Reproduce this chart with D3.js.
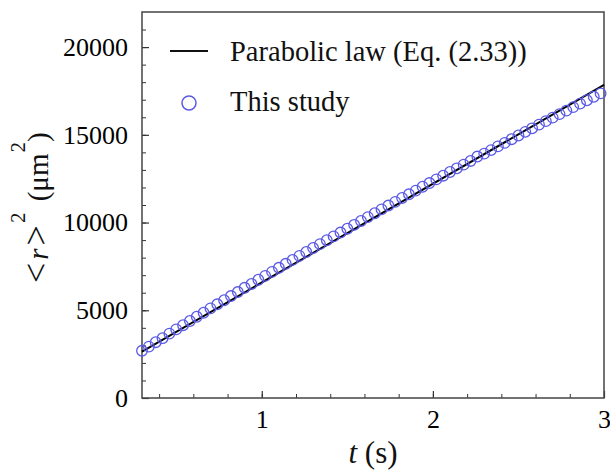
<!DOCTYPE html>
<html>
<head>
<meta charset="utf-8">
<script src="https://cdn.jsdelivr.net/npm/d3@7"></script>
<style>
  body { margin: 0; background: #fff; }
  svg { font-family: "Liberation Serif", "Times New Roman", serif; }
</style>
</head>
<body>
<script>
// time (s)
var times = [0.30, 0.34, 0.38, 0.42, 0.46, 0.50, 0.54, 0.58, 0.62, 0.66,
             0.70, 0.74, 0.78, 0.82, 0.86, 0.90, 0.94, 0.98, 1.02, 1.06,
             1.10, 1.14, 1.18, 1.22, 1.26, 1.30, 1.34, 1.38, 1.42, 1.46,
             1.50, 1.54, 1.58, 1.62, 1.66, 1.70, 1.74, 1.78, 1.82, 1.86,
             1.90, 1.94, 1.98, 2.02, 2.06, 2.10, 2.14, 2.18, 2.22, 2.26,
             2.30, 2.34, 2.38, 2.42, 2.46, 2.50, 2.54, 2.58, 2.62, 2.66,
             2.70, 2.74, 2.78, 2.82, 2.86, 2.90, 2.94, 2.98];
// <r>^2 (um^2), this study
var study = [2690, 2930, 3180, 3410, 3670, 3910, 4150, 4390, 4630, 4860,
             5110, 5340, 5570, 5810, 6040, 6280, 6500, 6740, 6960, 7190,
             7420, 7650, 7870, 8100, 8320, 8550, 8770, 8990, 9210, 9430,
             9650, 9870, 10090, 10310, 10530, 10750, 10970, 11180, 11400, 11610,
             11820, 12040, 12250, 12460, 12670, 12880, 13090, 13300, 13510, 13760,
             13930, 14130, 14340, 14540, 14750, 14960, 15170, 15370, 15580, 15780,
             15980, 16180, 16380, 16580, 16780, 16970, 17170, 17360];
// parabolic law, end points
var lawT = [0.3, 3.0];
var lawR = [2640, 17840];

var xTicks = [1, 2, 3];
var yTicks = [0, 5000, 10000, 15000, 20000];
var legendLabels = ["Parabolic law (Eq. (2.33))", "This study"];

var W = 610, H = 470;
var margin = {left: 142, right: 6, top: 12, bottom: 72},
    width = W - margin.left - margin.right,
    height = H - margin.top - margin.bottom;

var blue = "#5a5ae6";

var svg = d3.select("body").append("svg")
    .attr("width", W)
    .attr("height", H);

var g = svg.append("g")
    .attr("transform", "translate(" + margin.left + "," + margin.top + ")");

var x = d3.scaleLinear().domain([0.3, 3]).range([0, width]);
var y = d3.scaleLinear().domain([0, 22000]).range([height, 0]);

// minor ticks
g.append("g")
    .attr("transform", "translate(0," + height + ")")
    .call(d3.axisBottom(x).tickValues(d3.range(0.4, 3.0, 0.2)).tickSize(-4).tickFormat(""))
    .call(function(s) { s.select(".domain").remove(); s.selectAll("line").attr("stroke", "#333"); });
g.append("g")
    .call(d3.axisLeft(y).tickValues(d3.range(1000, 22000, 1000)).tickSize(-4).tickFormat(""))
    .call(function(s) { s.select(".domain").remove(); s.selectAll("line").attr("stroke", "#333"); });

// major ticks
var xAxis = g.append("g")
    .attr("transform", "translate(0," + height + ")")
    .call(d3.axisBottom(x).tickValues(xTicks).tickSize(-7).tickPadding(12).tickFormat(d3.format("d")));
var yAxis = g.append("g")
    .call(d3.axisLeft(y).tickValues(yTicks).tickSize(-7).tickPadding(14).tickFormat(d3.format("d")));

[xAxis, yAxis].forEach(function(a) {
    a.attr("font-family", null).attr("font-size", 26).attr("fill", "#111");
    a.select(".domain").remove();
    a.selectAll("line").attr("stroke", "#333").attr("stroke-width", 1.2);
});

// frame
g.append("rect")
    .attr("width", width)
    .attr("height", height)
    .attr("fill", "none")
    .attr("stroke", "#444")
    .attr("stroke-width", 1.5);

// parabolic law line
var line = d3.line()
    .x(function(d) { return x(d[0]); })
    .y(function(d) { return y(d[1]); });

g.append("path")
    .datum(d3.zip(lawT, lawR))
    .attr("d", line)
    .attr("fill", "none")
    .attr("stroke", "#000")
    .attr("stroke-width", 2);

// this study
g.append("g").selectAll("circle")
    .data(d3.zip(times, study))
    .enter().append("circle")
        .attr("cx", function(d) { return x(d[0]); })
        .attr("cy", function(d) { return y(d[1]); })
        .attr("r", 5.3)
        .attr("fill", "none")
        .attr("stroke", blue)
        .attr("stroke-width", 1.3);

// legend
var leg = svg.append("g").attr("font-size", 28.5).attr("fill", "#111");
leg.append("line")
    .attr("x1", 170).attr("x2", 208)
    .attr("y1", 51).attr("y2", 51)
    .attr("stroke", "#111").attr("stroke-width", 2);
leg.append("circle")
    .attr("cx", 189).attr("cy", 103).attr("r", 7)
    .attr("fill", "none").attr("stroke", blue).attr("stroke-width", 1.5);
leg.append("text").attr("x", 230).attr("y", 61).text(legendLabels[0]);
leg.append("text").attr("x", 230).attr("y", 111).text(legendLabels[1]);

// axis titles
var xt = svg.append("text")
    .attr("x", margin.left + width / 2)
    .attr("y", 463)
    .attr("text-anchor", "middle")
    .attr("font-size", 31)
    .attr("fill", "#111");
xt.append("tspan").attr("font-style", "italic").text("t");
xt.append("tspan").text(" (s)");

// y title, laid out from its start (bottom) upwards
var yt = svg.append("text")
    .attr("transform", "translate(48,283) rotate(-90)")
    .attr("text-anchor", "start")
    .attr("font-size", 29)
    .attr("fill", "#111");
yt.append("tspan").attr("font-size", 36).text("<");
yt.append("tspan").attr("font-style", "italic").attr("dx", 3).text("r");
yt.append("tspan").attr("font-size", 36).attr("dx", 3).text(">");
yt.append("tspan").attr("font-size", 21).attr("dy", -23).attr("dx", 2).text("2");
yt.append("tspan").attr("dy", 23).attr("dx", 4).text(" (μm");
yt.append("tspan").attr("font-size", 21).attr("dy", -23).attr("dx", 1).text("2");
yt.append("tspan").attr("dy", 23).text(")");
</script>
</body>
</html>
